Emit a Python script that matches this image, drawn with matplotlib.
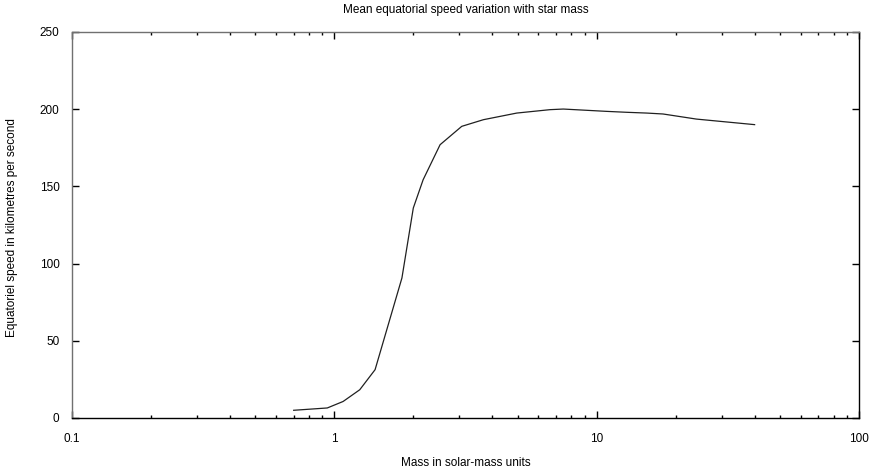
import matplotlib
matplotlib.use("Agg")
import matplotlib.pyplot as plt
from matplotlib.ticker import LogLocator, FixedLocator, NullFormatter

# Mean equatorial rotation speed against stellar mass
mass = [0.70, 0.94, 1.08, 1.25, 1.43, 1.81, 2.00, 2.18, 2.53, 3.06, 3.70,
        4.96, 6.64, 7.46, 10.9, 13.0, 15.5, 17.9, 24.0, 40.0]
speed = [5.0, 6.5, 10.7, 18.3, 31.3, 90.7, 136.0, 154.3, 177.0, 188.9, 193.2,
         197.5, 199.7, 200.1, 198.6, 198.0, 197.5, 196.9, 193.6, 190.0]

x_ticks = [0.1, 1, 10, 100]
x_tick_labels = ["0.1", "1", "10", "100"]
y_ticks = [0, 50, 100, 150, 200, 250]

plt.rcParams['font.family'] = ['Liberation Sans', 'DejaVu Sans']

fig = plt.figure(figsize=(8.74, 4.71), dpi=100)
W, H = 874, 471
left, right, top, bottom = 72, 859, 32, 418
ax = fig.add_axes([left / W, 1 - bottom / H, (right - left) / W, (bottom - top) / H])

ax.plot(mass, speed, color="#202020", linewidth=0.9)

ax.set_xscale("log")
ax.set_xlim(0.1, 100)
ax.set_ylim(0, 250)

ax.xaxis.set_major_locator(FixedLocator(x_ticks))
ax.set_xticklabels(x_tick_labels)
ax.xaxis.set_minor_locator(LogLocator(base=10, subs=range(2, 10)))
ax.xaxis.set_minor_formatter(NullFormatter())
ax.set_yticks(y_ticks)

ax.tick_params(axis="both", which="major", direction="in", length=5, width=1,
               top=True, right=True, labelsize=8.5, colors="black", pad=9)
ax.tick_params(axis="both", which="minor", direction="in", length=2.5, width=1,
               top=True, right=True)
ax.tick_params(axis="x", which="major", pad=11)

for side in ("bottom", "right"):
    ax.spines[side].set_color("black")
for side in ("top", "left"):
    ax.spines[side].set_color("#707070")
for sp in ax.spines.values():
    sp.set_linewidth(1.0)

fig.text((left + right) / 2 / W, 1 - 10 / H, "Mean equatorial speed variation with star mass",
         ha="center", va="center", fontsize=8.5)
fig.text((left + right) / 2 / W, 1 - 463 / H, "Mass in solar-mass units",
         ha="center", va="center", fontsize=8.5)
fig.text(12 / W, 1 - 228 / H, "Equatoriel speed in kilometres per second",
         ha="center", va="center", rotation=90, fontsize=8.5)

fig.savefig("out.png", dpi=100, facecolor="white")
